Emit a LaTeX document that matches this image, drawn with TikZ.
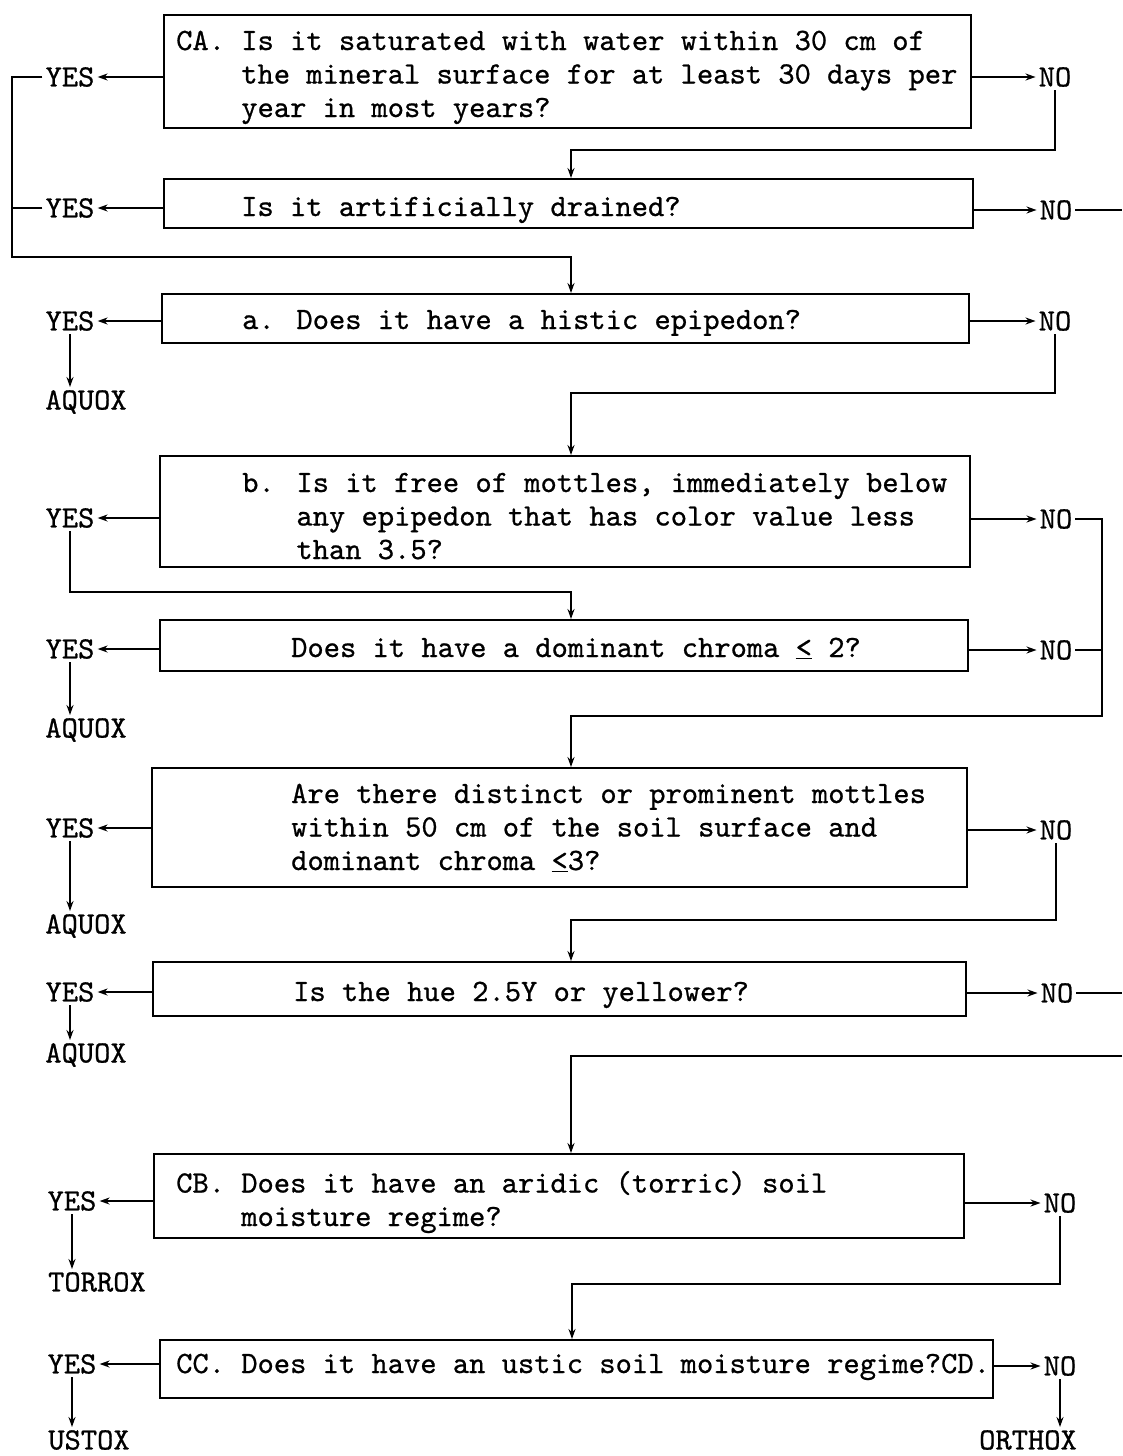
\documentclass[tikz,border=0pt]{standalone}
\usepackage{fontspec}
\usetikzlibrary{arrows.meta,fit}
% typewriter face, slightly emboldened
\newfontfamily\typew{lmmono10-regular.otf}[FakeBold=0.7]
\begin{document}
\begin{tikzpicture}[x=1pt,y=-1pt,
  every node/.style={font=\fontsize{31}{33.5}\selectfont\typew},
  qbox/.style={draw, line width=2pt, inner sep=0pt},
  qtext/.style={anchor=base west, align=left, inner sep=0pt},
  lbl/.style={inner sep=3pt},
  link/.style={line width=1.6pt},
  arr/.style={link, -{Stealth[length=10pt,width=7pt]}}]
\useasboundingbox (0,0) rectangle (1122,1456);
\fill[white] (0,0) rectangle (1122,1456);

% question boxes
\node[qbox, fit={(164,15) (971,128)}] (b1) {};
\node[qbox, fit={(164,179) (973,228)}] (b2) {};
\node[qbox, fit={(162,294) (969,343)}] (b3) {};
\node[qbox, fit={(160,456) (970,567)}] (b4) {};
\node[qbox, fit={(160,620) (968,671)}] (b5) {};
\node[qbox, fit={(152,768) (967,887)}] (b6) {};
\node[qbox, fit={(153,962) (966,1016)}] (b7) {};
\node[qbox, fit={(154,1154) (964,1238)}] (b8) {};
\node[qbox, fit={(160,1340) (993,1398)}] (b9) {};

% question texts (a multi-line text is placed by the baseline of its last line)
\node[qtext] (t1) at (176,117) {CA. Is it saturated with water within 30 cm of\\\phantom{CA. }the mineral surface for at least 30 days per\\\phantom{CA. }year in most years?};
\node[qtext] (t2) at (241,216) {Is it artificially drained?};
\node[qtext] (t3) at (242,329) {a. Does it have a histic epipedon?};
\node[qtext] (t4) at (242,559) {b. Is it free of mottles, immediately below\\\phantom{b. }any epipedon that has color value less\\\phantom{b. }than 3.5?};
\node[qtext] (t5) at (291,657) {Does it have a dominant chroma \underline{<} 2?};
\node[qtext] (t6) at (291,870) {Are there distinct or prominent mottles\\within 50 cm of the soil surface and\\dominant chroma \underline{<}3?};
\node[qtext] (t7) at (293,1001) {Is the hue 2.5Y or yellower?};
\node[qtext] (t8) at (176,1226) {CB. Does it have an aridic (torric) soil\\\phantom{CB. }moisture regime?};
\node[qtext] (t9) at (176,1373) {CC. Does it have an ustic soil moisture regime?CD.};

% answer labels
\node[lbl] (y1) at (70,77) {YES};
\node[lbl] (n1) at (1055,77) {NO};
\node[lbl] (y2) at (70,208) {YES};
\node[lbl] (n2) at (1056,210) {NO};
\node[lbl] (y3) at (70,321) {YES};
\node[lbl] (n3) at (1055,321) {NO};
\node[lbl] (aq1) at (86,402) {AQUOX};
\node[lbl] (y4) at (70,518) {YES};
\node[lbl] (n4) at (1056,519) {NO};
\node[lbl] (y5) at (70,649) {YES};
\node[lbl] (n5) at (1056,650) {NO};
\node[lbl] (aq2) at (86,730) {AQUOX};
\node[lbl] (y6) at (70,828) {YES};
\node[lbl] (n6) at (1056,830) {NO};
\node[lbl] (aq3) at (86,926) {AQUOX};
\node[lbl] (y7) at (70,992) {YES};
\node[lbl] (n7) at (1057,993) {NO};
\node[lbl] (aq4) at (86,1055) {AQUOX};
\node[lbl] (y8) at (72,1201) {YES};
\node[lbl] (n8) at (1060,1203) {NO};
\node[lbl] (torrox) at (97,1282) {TORROX};
\node[lbl] (y9) at (72,1364) {YES};
\node[lbl] (n9) at (1060,1366) {NO};
\node[lbl] (ustox) at (89,1440) {USTOX};
\node[lbl] (orthox) at (1028,1440) {ORTHOX};

% routing points
\coordinate (busL) at (12,257);
\coordinate (busR) at (1102,716);
\coordinate (j2) at (571,150);
\coordinate (j3) at (571,257);
\coordinate (j4) at (571,393);
\coordinate (j5) at (571,592);
\coordinate (j6) at (571,716);
\coordinate (j7) at (571,920);
\coordinate (j8) at (571,1056);
\coordinate (j9) at (572,1284);
\coordinate (edge) at (1122,1056);

% yes / no branches
\foreach \b/\y/\n in {b1/y1/n1, b2/y2/n2, b3/y3/n3, b4/y4/n4, b5/y5/n5,
                      b6/y6/n6, b7/y7/n7, b8/y8/n8, b9/y9/n9} {
  \draw[arr] (\y -| \b.west) -- (\y.east);
  \draw[arr] (\n -| \b.east) -- (\n.west);
}

% CA and drainage: yes leads on to the wet-soil questions
\draw[arr] (y1.west) -| (busL) -- (j3) -- (j3 |- b3.north);
\draw[link] (y2.west) -- (y2.west -| busL);
\draw[arr] (n1.south) |- (j2) -- (j2 |- b2.north);
\draw[link] (n2.east) -- (n2.east -| edge);

% wet-soil sequence
\draw[arr] (y3.south) -- (y3.south |- aq1.north);
\draw[arr] (n3.south) |- (j4) -- (j4 |- b4.north);
\draw[arr] (y4.south) |- (j5) -- (j5 |- b5.north);
\draw[arr] (n4.east) -| (busR) -- (j6) -- (j6 |- b6.north);
\draw[link] (n5.east) -- (n5.east -| busR);
\draw[arr] (y5.south) -- (y5.south |- aq2.north);
\draw[arr] (y6.south) -- (y6.south |- aq3.north);
\draw[arr] (n6.south) |- (j7) -- (j7 |- b7.north);
\draw[arr] (y7.south) -- (y7.south |- aq4.north);
\draw[link] (n7.east) -- (n7.east -| edge);

% moisture regime questions
\draw[arr] (edge) -- (j8) -- (j8 |- b8.north);
\draw[arr] (y8.south) -- (y8.south |- torrox.north);
\draw[arr] (n8.south) |- (j9) -- (j9 |- b9.north);
\draw[arr] (y9.south) -- (y9.south |- ustox.north);
\draw[arr] (n9.south) -- (n9.south |- orthox.north);
\end{tikzpicture}
\end{document}
